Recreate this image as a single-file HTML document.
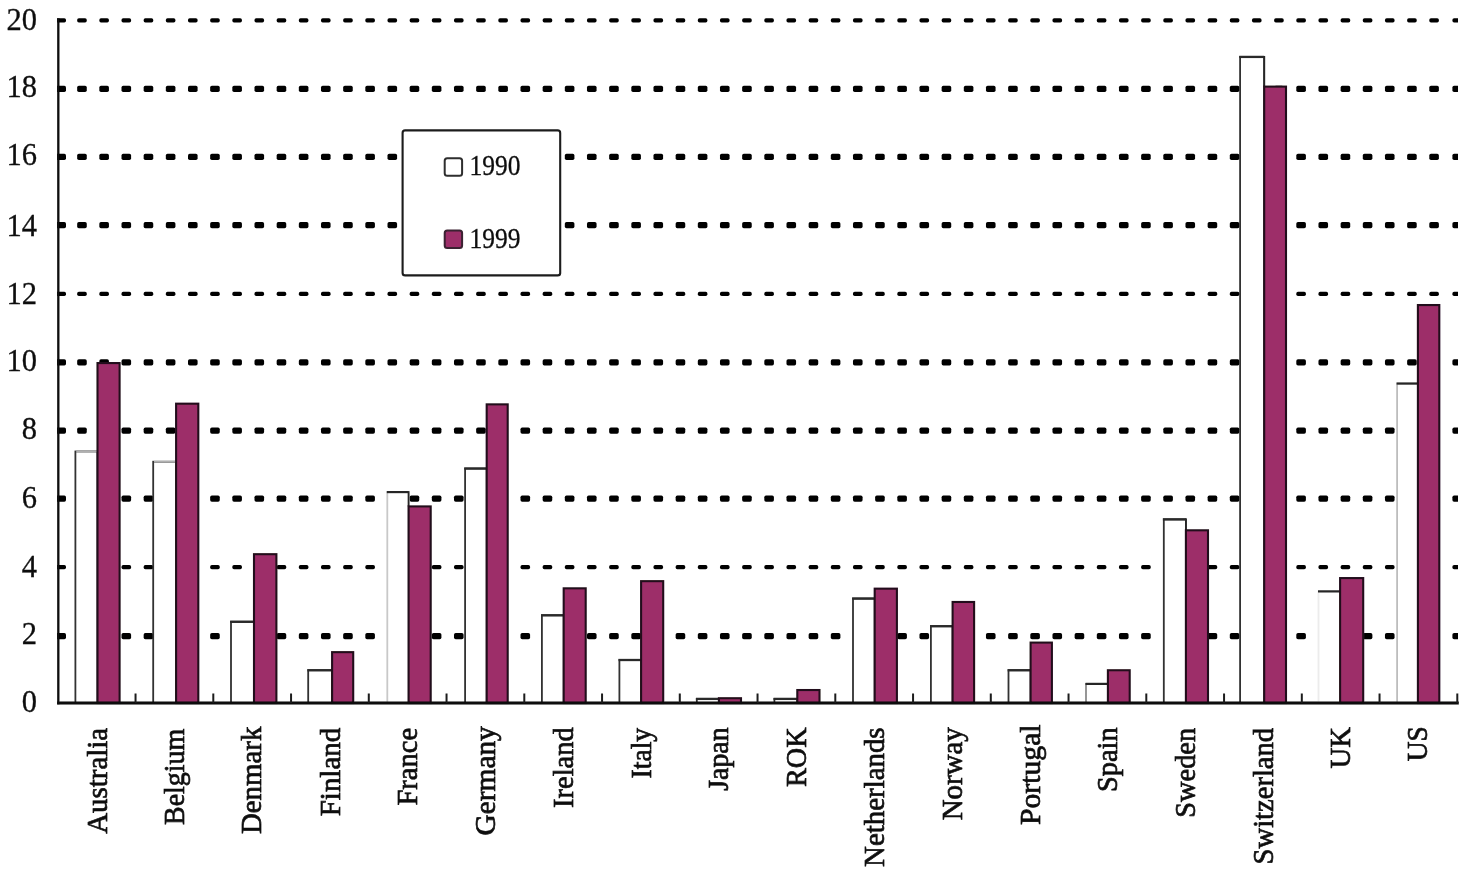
<!DOCTYPE html>
<html><head><meta charset="utf-8"><title>chart</title>
<style>
html,body{margin:0;padding:0;background:#fff;}
body{width:1465px;height:873px;overflow:hidden;font-family:"Liberation Serif",serif;}
svg{display:block;}
text{font-family:"Liberation Serif",serif;fill:#0d0d0d;stroke:#0d0d0d;stroke-width:0.7;}
.n{stroke-width:0.3;}
</style></head><body>
<svg width="1465" height="873" viewBox="0 0 1465 873">
<defs>
<filter id="soft" x="-1%" y="-1%" width="102%" height="102%"><feGaussianBlur stdDeviation="0.45"/></filter>
<clipPath id="plot"><rect x="57" y="0" width="1401.0" height="720"/></clipPath>
<g id="dk" fill="#050505"><rect x="54.00" y="-3.1" width="12.0" height="6.2" rx="1.7"/><rect x="77.17" y="-3.1" width="9.6" height="6.2" rx="1.7"/><rect x="99.33" y="-3.1" width="9.6" height="6.2" rx="1.7"/><rect x="121.50" y="-3.1" width="9.6" height="6.2" rx="1.7"/><rect x="143.66" y="-3.1" width="9.6" height="6.2" rx="1.7"/><rect x="165.83" y="-3.1" width="9.6" height="6.2" rx="1.7"/><rect x="188.00" y="-3.1" width="9.6" height="6.2" rx="1.7"/><rect x="210.16" y="-3.1" width="9.6" height="6.2" rx="1.7"/><rect x="232.33" y="-3.1" width="9.6" height="6.2" rx="1.7"/><rect x="254.49" y="-3.1" width="9.6" height="6.2" rx="1.7"/><rect x="276.66" y="-3.1" width="9.6" height="6.2" rx="1.7"/><rect x="298.83" y="-3.1" width="9.6" height="6.2" rx="1.7"/><rect x="320.99" y="-3.1" width="9.6" height="6.2" rx="1.7"/><rect x="343.16" y="-3.1" width="9.6" height="6.2" rx="1.7"/><rect x="365.32" y="-3.1" width="9.6" height="6.2" rx="1.7"/><rect x="387.49" y="-3.1" width="9.6" height="6.2" rx="1.7"/><rect x="409.66" y="-3.1" width="9.6" height="6.2" rx="1.7"/><rect x="431.82" y="-3.1" width="9.6" height="6.2" rx="1.7"/><rect x="453.99" y="-3.1" width="9.6" height="6.2" rx="1.7"/><rect x="476.15" y="-3.1" width="9.6" height="6.2" rx="1.7"/><rect x="498.32" y="-3.1" width="9.6" height="6.2" rx="1.7"/><rect x="520.49" y="-3.1" width="9.6" height="6.2" rx="1.7"/><rect x="542.65" y="-3.1" width="9.6" height="6.2" rx="1.7"/><rect x="564.82" y="-3.1" width="9.6" height="6.2" rx="1.7"/><rect x="586.98" y="-3.1" width="9.6" height="6.2" rx="1.7"/><rect x="609.15" y="-3.1" width="9.6" height="6.2" rx="1.7"/><rect x="631.32" y="-3.1" width="9.6" height="6.2" rx="1.7"/><rect x="653.48" y="-3.1" width="9.6" height="6.2" rx="1.7"/><rect x="675.65" y="-3.1" width="9.6" height="6.2" rx="1.7"/><rect x="697.81" y="-3.1" width="9.6" height="6.2" rx="1.7"/><rect x="719.98" y="-3.1" width="9.6" height="6.2" rx="1.7"/><rect x="742.15" y="-3.1" width="9.6" height="6.2" rx="1.7"/><rect x="764.31" y="-3.1" width="9.6" height="6.2" rx="1.7"/><rect x="786.48" y="-3.1" width="9.6" height="6.2" rx="1.7"/><rect x="808.64" y="-3.1" width="9.6" height="6.2" rx="1.7"/><rect x="830.81" y="-3.1" width="9.6" height="6.2" rx="1.7"/><rect x="852.98" y="-3.1" width="9.6" height="6.2" rx="1.7"/><rect x="875.14" y="-3.1" width="9.6" height="6.2" rx="1.7"/><rect x="897.31" y="-3.1" width="9.6" height="6.2" rx="1.7"/><rect x="919.47" y="-3.1" width="9.6" height="6.2" rx="1.7"/><rect x="941.64" y="-3.1" width="9.6" height="6.2" rx="1.7"/><rect x="963.81" y="-3.1" width="9.6" height="6.2" rx="1.7"/><rect x="985.97" y="-3.1" width="9.6" height="6.2" rx="1.7"/><rect x="1008.14" y="-3.1" width="9.6" height="6.2" rx="1.7"/><rect x="1030.30" y="-3.1" width="9.6" height="6.2" rx="1.7"/><rect x="1052.47" y="-3.1" width="9.6" height="6.2" rx="1.7"/><rect x="1074.64" y="-3.1" width="9.6" height="6.2" rx="1.7"/><rect x="1096.80" y="-3.1" width="9.6" height="6.2" rx="1.7"/><rect x="1118.97" y="-3.1" width="9.6" height="6.2" rx="1.7"/><rect x="1141.13" y="-3.1" width="9.6" height="6.2" rx="1.7"/><rect x="1163.30" y="-3.1" width="9.6" height="6.2" rx="1.7"/><rect x="1185.47" y="-3.1" width="9.6" height="6.2" rx="1.7"/><rect x="1207.63" y="-3.1" width="9.6" height="6.2" rx="1.7"/><rect x="1229.80" y="-3.1" width="9.6" height="6.2" rx="1.7"/><rect x="1251.96" y="-3.1" width="9.6" height="6.2" rx="1.7"/><rect x="1274.13" y="-3.1" width="9.6" height="6.2" rx="1.7"/><rect x="1296.30" y="-3.1" width="9.6" height="6.2" rx="1.7"/><rect x="1318.46" y="-3.1" width="9.6" height="6.2" rx="1.7"/><rect x="1340.63" y="-3.1" width="9.6" height="6.2" rx="1.7"/><rect x="1362.79" y="-3.1" width="9.6" height="6.2" rx="1.7"/><rect x="1384.96" y="-3.1" width="9.6" height="6.2" rx="1.7"/><rect x="1407.13" y="-3.1" width="9.6" height="6.2" rx="1.7"/><rect x="1429.29" y="-3.1" width="9.6" height="6.2" rx="1.7"/><rect x="1452.40" y="-3.1" width="7.0" height="6.2" rx="1.7"/></g>
<g id="dn" fill="#050505"><rect x="54.00" y="-2.1" width="12.0" height="4.2" rx="1.7"/><rect x="77.17" y="-2.1" width="9.6" height="4.2" rx="1.7"/><rect x="99.33" y="-2.1" width="9.6" height="4.2" rx="1.7"/><rect x="121.50" y="-2.1" width="9.6" height="4.2" rx="1.7"/><rect x="143.66" y="-2.1" width="9.6" height="4.2" rx="1.7"/><rect x="165.83" y="-2.1" width="9.6" height="4.2" rx="1.7"/><rect x="188.00" y="-2.1" width="9.6" height="4.2" rx="1.7"/><rect x="210.16" y="-2.1" width="9.6" height="4.2" rx="1.7"/><rect x="232.33" y="-2.1" width="9.6" height="4.2" rx="1.7"/><rect x="254.49" y="-2.1" width="9.6" height="4.2" rx="1.7"/><rect x="276.66" y="-2.1" width="9.6" height="4.2" rx="1.7"/><rect x="298.83" y="-2.1" width="9.6" height="4.2" rx="1.7"/><rect x="320.99" y="-2.1" width="9.6" height="4.2" rx="1.7"/><rect x="343.16" y="-2.1" width="9.6" height="4.2" rx="1.7"/><rect x="365.32" y="-2.1" width="9.6" height="4.2" rx="1.7"/><rect x="387.49" y="-2.1" width="9.6" height="4.2" rx="1.7"/><rect x="409.66" y="-2.1" width="9.6" height="4.2" rx="1.7"/><rect x="431.82" y="-2.1" width="9.6" height="4.2" rx="1.7"/><rect x="453.99" y="-2.1" width="9.6" height="4.2" rx="1.7"/><rect x="476.15" y="-2.1" width="9.6" height="4.2" rx="1.7"/><rect x="498.32" y="-2.1" width="9.6" height="4.2" rx="1.7"/><rect x="520.49" y="-2.1" width="9.6" height="4.2" rx="1.7"/><rect x="542.65" y="-2.1" width="9.6" height="4.2" rx="1.7"/><rect x="564.82" y="-2.1" width="9.6" height="4.2" rx="1.7"/><rect x="586.98" y="-2.1" width="9.6" height="4.2" rx="1.7"/><rect x="609.15" y="-2.1" width="9.6" height="4.2" rx="1.7"/><rect x="631.32" y="-2.1" width="9.6" height="4.2" rx="1.7"/><rect x="653.48" y="-2.1" width="9.6" height="4.2" rx="1.7"/><rect x="675.65" y="-2.1" width="9.6" height="4.2" rx="1.7"/><rect x="697.81" y="-2.1" width="9.6" height="4.2" rx="1.7"/><rect x="719.98" y="-2.1" width="9.6" height="4.2" rx="1.7"/><rect x="742.15" y="-2.1" width="9.6" height="4.2" rx="1.7"/><rect x="764.31" y="-2.1" width="9.6" height="4.2" rx="1.7"/><rect x="786.48" y="-2.1" width="9.6" height="4.2" rx="1.7"/><rect x="808.64" y="-2.1" width="9.6" height="4.2" rx="1.7"/><rect x="830.81" y="-2.1" width="9.6" height="4.2" rx="1.7"/><rect x="852.98" y="-2.1" width="9.6" height="4.2" rx="1.7"/><rect x="875.14" y="-2.1" width="9.6" height="4.2" rx="1.7"/><rect x="897.31" y="-2.1" width="9.6" height="4.2" rx="1.7"/><rect x="919.47" y="-2.1" width="9.6" height="4.2" rx="1.7"/><rect x="941.64" y="-2.1" width="9.6" height="4.2" rx="1.7"/><rect x="963.81" y="-2.1" width="9.6" height="4.2" rx="1.7"/><rect x="985.97" y="-2.1" width="9.6" height="4.2" rx="1.7"/><rect x="1008.14" y="-2.1" width="9.6" height="4.2" rx="1.7"/><rect x="1030.30" y="-2.1" width="9.6" height="4.2" rx="1.7"/><rect x="1052.47" y="-2.1" width="9.6" height="4.2" rx="1.7"/><rect x="1074.64" y="-2.1" width="9.6" height="4.2" rx="1.7"/><rect x="1096.80" y="-2.1" width="9.6" height="4.2" rx="1.7"/><rect x="1118.97" y="-2.1" width="9.6" height="4.2" rx="1.7"/><rect x="1141.13" y="-2.1" width="9.6" height="4.2" rx="1.7"/><rect x="1163.30" y="-2.1" width="9.6" height="4.2" rx="1.7"/><rect x="1185.47" y="-2.1" width="9.6" height="4.2" rx="1.7"/><rect x="1207.63" y="-2.1" width="9.6" height="4.2" rx="1.7"/><rect x="1229.80" y="-2.1" width="9.6" height="4.2" rx="1.7"/><rect x="1251.96" y="-2.1" width="9.6" height="4.2" rx="1.7"/><rect x="1274.13" y="-2.1" width="9.6" height="4.2" rx="1.7"/><rect x="1296.30" y="-2.1" width="9.6" height="4.2" rx="1.7"/><rect x="1318.46" y="-2.1" width="9.6" height="4.2" rx="1.7"/><rect x="1340.63" y="-2.1" width="9.6" height="4.2" rx="1.7"/><rect x="1362.79" y="-2.1" width="9.6" height="4.2" rx="1.7"/><rect x="1384.96" y="-2.1" width="9.6" height="4.2" rx="1.7"/><rect x="1407.13" y="-2.1" width="9.6" height="4.2" rx="1.7"/><rect x="1429.29" y="-2.1" width="9.6" height="4.2" rx="1.7"/><rect x="1452.40" y="-2.1" width="7.0" height="4.2" rx="1.7"/></g>
</defs>
<rect x="0" y="0" width="1465" height="873" fill="#ffffff"/>
<g filter="url(#soft)">
<g clip-path="url(#plot)">
<use href="#dk" y="636.10"/>
<use href="#dn" y="567.20"/>
<use href="#dk" y="498.70"/>
<use href="#dk" y="430.60"/>
<use href="#dk" y="362.40"/>
<use href="#dn" y="293.80"/>
<use href="#dk" y="225.10"/>
<use href="#dk" y="156.90"/>
<use href="#dk" y="88.90"/>
<use href="#dn" y="20.30"/>
</g>
<text class="n" x="37.0" y="712.1" font-size="30.5" text-anchor="end">0</text>
<text class="n" x="37.0" y="644.3" font-size="30.5" text-anchor="end">2</text>
<text class="n" x="37.0" y="576.7" font-size="30.5" text-anchor="end">4</text>
<text class="n" x="37.0" y="507.7" font-size="30.5" text-anchor="end">6</text>
<text class="n" x="37.0" y="438.5" font-size="30.5" text-anchor="end">8</text>
<text class="n" x="37.0" y="371.0" font-size="30.5" text-anchor="end">10</text>
<text class="n" x="37.0" y="303.6" font-size="30.5" text-anchor="end">12</text>
<text class="n" x="37.0" y="236.1" font-size="30.5" text-anchor="end">14</text>
<text class="n" x="37.0" y="164.6" font-size="30.5" text-anchor="end">16</text>
<text class="n" x="37.0" y="97.2" font-size="30.5" text-anchor="end">18</text>
<text class="n" x="37.0" y="29.8" font-size="30.5" text-anchor="end">20</text>
<rect x="75.40" y="451.46" width="22.10" height="251.54" fill="#fff" stroke="#303030" stroke-width="1.8"/>
<line x1="76.20" y1="451.46" x2="97.50" y2="451.46" stroke="#b0b0b0" stroke-width="1.6"/>
<rect x="97.50" y="363.07" width="22.10" height="339.93" fill="#9d2f69" stroke="#24101b" stroke-width="2.1"/>
<rect x="153.20" y="461.70" width="22.90" height="241.30" fill="#fff" stroke="#303030" stroke-width="1.8"/>
<line x1="154.00" y1="461.70" x2="176.10" y2="461.70" stroke="#b0b0b0" stroke-width="1.6"/>
<rect x="176.10" y="403.68" width="22.20" height="299.32" fill="#9d2f69" stroke="#24101b" stroke-width="2.1"/>
<rect x="231.00" y="621.77" width="23.00" height="81.23" fill="#fff" stroke="#303030" stroke-width="1.8"/>
<line x1="230.10" y1="621.77" x2="254.00" y2="621.77" stroke="#2a2a2a" stroke-width="2.3"/>
<rect x="254.00" y="554.19" width="22.40" height="148.81" fill="#9d2f69" stroke="#24101b" stroke-width="2.1"/>
<rect x="308.20" y="670.24" width="23.90" height="32.76" fill="#fff" stroke="#303030" stroke-width="1.8"/>
<line x1="307.30" y1="670.24" x2="332.10" y2="670.24" stroke="#2a2a2a" stroke-width="2.3"/>
<rect x="332.10" y="652.15" width="21.10" height="50.85" fill="#9d2f69" stroke="#24101b" stroke-width="2.1"/>
<rect x="387.30" y="492.08" width="21.30" height="210.92" fill="#fff" stroke="#c8c8c8" stroke-width="1.8"/>
<line x1="386.80" y1="492.08" x2="408.60" y2="492.08" stroke="#262626" stroke-width="2.2"/>
<line x1="408.60" y1="491.18" x2="408.60" y2="506.41" stroke="#262626" stroke-width="1.8"/>
<rect x="408.60" y="506.41" width="22.10" height="196.59" fill="#9d2f69" stroke="#24101b" stroke-width="2.1"/>
<rect x="465.10" y="468.53" width="21.60" height="234.47" fill="#fff" stroke="#303030" stroke-width="1.8"/>
<line x1="464.20" y1="468.53" x2="486.70" y2="468.53" stroke="#2a2a2a" stroke-width="2.3"/>
<rect x="486.70" y="404.36" width="21.00" height="298.64" fill="#9d2f69" stroke="#24101b" stroke-width="2.1"/>
<rect x="541.90" y="615.29" width="21.80" height="87.71" fill="#fff" stroke="#303030" stroke-width="1.8"/>
<line x1="541.00" y1="615.29" x2="563.70" y2="615.29" stroke="#2a2a2a" stroke-width="2.3"/>
<rect x="563.70" y="588.32" width="22.00" height="114.68" fill="#9d2f69" stroke="#24101b" stroke-width="2.1"/>
<rect x="619.40" y="660.00" width="21.70" height="43.00" fill="#fff" stroke="#303030" stroke-width="1.8"/>
<line x1="618.50" y1="660.00" x2="641.10" y2="660.00" stroke="#2a2a2a" stroke-width="2.3"/>
<rect x="641.10" y="581.16" width="22.10" height="121.84" fill="#9d2f69" stroke="#24101b" stroke-width="2.1"/>
<rect x="696.80" y="698.90" width="22.10" height="4.10" fill="#fff" stroke="#303030" stroke-width="1.8"/>
<line x1="695.90" y1="698.90" x2="718.90" y2="698.90" stroke="#2a2a2a" stroke-width="2.3"/>
<rect x="718.90" y="698.22" width="22.10" height="4.78" fill="#9d2f69" stroke="#24101b" stroke-width="2.1"/>
<rect x="774.40" y="698.90" width="22.90" height="4.10" fill="#fff" stroke="#303030" stroke-width="1.8"/>
<line x1="773.50" y1="698.90" x2="797.30" y2="698.90" stroke="#2a2a2a" stroke-width="2.3"/>
<rect x="797.30" y="690.03" width="22.20" height="12.97" fill="#9d2f69" stroke="#24101b" stroke-width="2.1"/>
<rect x="853.00" y="598.56" width="21.70" height="104.44" fill="#fff" stroke="#303030" stroke-width="1.8"/>
<line x1="852.10" y1="598.56" x2="874.70" y2="598.56" stroke="#2a2a2a" stroke-width="2.3"/>
<rect x="874.70" y="588.66" width="22.20" height="114.34" fill="#9d2f69" stroke="#24101b" stroke-width="2.1"/>
<rect x="930.90" y="626.21" width="21.70" height="76.79" fill="#fff" stroke="#303030" stroke-width="1.8"/>
<line x1="930.00" y1="626.21" x2="952.60" y2="626.21" stroke="#2a2a2a" stroke-width="2.3"/>
<rect x="952.60" y="601.98" width="21.50" height="101.02" fill="#9d2f69" stroke="#24101b" stroke-width="2.1"/>
<rect x="1008.50" y="670.24" width="22.10" height="32.76" fill="#fff" stroke="#303030" stroke-width="1.8"/>
<line x1="1007.60" y1="670.24" x2="1030.60" y2="670.24" stroke="#2a2a2a" stroke-width="2.3"/>
<rect x="1030.60" y="642.59" width="21.30" height="60.41" fill="#9d2f69" stroke="#24101b" stroke-width="2.1"/>
<rect x="1086.00" y="683.89" width="21.90" height="19.11" fill="#fff" stroke="#8c8c8c" stroke-width="1.8"/>
<line x1="1085.50" y1="683.89" x2="1107.90" y2="683.89" stroke="#262626" stroke-width="2.2"/>
<rect x="1107.90" y="670.24" width="21.80" height="32.76" fill="#9d2f69" stroke="#24101b" stroke-width="2.1"/>
<rect x="1163.80" y="519.38" width="22.10" height="183.62" fill="#fff" stroke="#303030" stroke-width="1.8"/>
<line x1="1185.90" y1="518.48" x2="1185.90" y2="530.30" stroke="#262626" stroke-width="1.8"/>
<line x1="1162.90" y1="519.38" x2="1185.90" y2="519.38" stroke="#2a2a2a" stroke-width="2.3"/>
<rect x="1185.90" y="530.30" width="22.10" height="172.70" fill="#9d2f69" stroke="#24101b" stroke-width="2.1"/>
<rect x="1240.10" y="56.92" width="24.10" height="646.08" fill="#fff" stroke="#303030" stroke-width="1.8"/>
<line x1="1264.20" y1="56.02" x2="1264.20" y2="86.61" stroke="#262626" stroke-width="1.8"/>
<line x1="1239.20" y1="56.92" x2="1264.20" y2="56.92" stroke="#2a2a2a" stroke-width="2.3"/>
<rect x="1264.20" y="86.61" width="21.80" height="616.39" fill="#9d2f69" stroke="#24101b" stroke-width="2.1"/>
<rect x="1318.50" y="591.39" width="21.60" height="111.61" fill="#fff" stroke="#ececec" stroke-width="1.8"/>
<line x1="1318.00" y1="591.39" x2="1340.10" y2="591.39" stroke="#262626" stroke-width="2.2"/>
<rect x="1340.10" y="578.08" width="23.10" height="124.92" fill="#9d2f69" stroke="#24101b" stroke-width="2.1"/>
<rect x="1397.10" y="383.54" width="20.80" height="319.46" fill="#fff" stroke="#bdbdbd" stroke-width="1.8"/>
<line x1="1396.60" y1="383.54" x2="1417.90" y2="383.54" stroke="#262626" stroke-width="2.2"/>
<rect x="1417.90" y="305.04" width="21.40" height="397.96" fill="#9d2f69" stroke="#24101b" stroke-width="2.1"/>
<line x1="58.3" y1="18.3" x2="58.3" y2="704.2" stroke="#0a0a0a" stroke-width="2.3"/>
<line x1="57.1" y1="703.1" x2="1458.8" y2="703.1" stroke="#0a0a0a" stroke-width="3.0"/>
<line x1="135.55" y1="693.5" x2="135.55" y2="703.0" stroke="#1c1c1c" stroke-width="2.0"/>
<line x1="213.30" y1="693.5" x2="213.30" y2="703.0" stroke="#1c1c1c" stroke-width="2.0"/>
<line x1="291.05" y1="693.5" x2="291.05" y2="703.0" stroke="#1c1c1c" stroke-width="2.0"/>
<line x1="368.80" y1="693.5" x2="368.80" y2="703.0" stroke="#1c1c1c" stroke-width="2.0"/>
<line x1="446.55" y1="693.5" x2="446.55" y2="703.0" stroke="#1c1c1c" stroke-width="2.0"/>
<line x1="524.30" y1="693.5" x2="524.30" y2="703.0" stroke="#1c1c1c" stroke-width="2.0"/>
<line x1="602.05" y1="693.5" x2="602.05" y2="703.0" stroke="#1c1c1c" stroke-width="2.0"/>
<line x1="679.80" y1="693.5" x2="679.80" y2="703.0" stroke="#1c1c1c" stroke-width="2.0"/>
<line x1="757.55" y1="693.5" x2="757.55" y2="703.0" stroke="#1c1c1c" stroke-width="2.0"/>
<line x1="835.30" y1="693.5" x2="835.30" y2="703.0" stroke="#1c1c1c" stroke-width="2.0"/>
<line x1="913.05" y1="693.5" x2="913.05" y2="703.0" stroke="#1c1c1c" stroke-width="2.0"/>
<line x1="990.80" y1="693.5" x2="990.80" y2="703.0" stroke="#1c1c1c" stroke-width="2.0"/>
<line x1="1068.55" y1="693.5" x2="1068.55" y2="703.0" stroke="#1c1c1c" stroke-width="2.0"/>
<line x1="1146.30" y1="693.5" x2="1146.30" y2="703.0" stroke="#1c1c1c" stroke-width="2.0"/>
<line x1="1224.05" y1="693.5" x2="1224.05" y2="703.0" stroke="#1c1c1c" stroke-width="2.0"/>
<line x1="1301.80" y1="693.5" x2="1301.80" y2="703.0" stroke="#1c1c1c" stroke-width="2.0"/>
<line x1="1379.55" y1="693.5" x2="1379.55" y2="703.0" stroke="#1c1c1c" stroke-width="2.0"/>
<line x1="1457.30" y1="693.5" x2="1457.30" y2="703.0" stroke="#1c1c1c" stroke-width="2.0"/>
<text transform="translate(107.30 833.80) rotate(-90)" font-size="29.5" textLength="105.9" lengthAdjust="spacingAndGlyphs">Australia</text>
<text transform="translate(183.50 825.00) rotate(-90)" font-size="29.5" textLength="96.3" lengthAdjust="spacingAndGlyphs">Belgium</text>
<text transform="translate(261.30 834.00) rotate(-90)" font-size="29.5" textLength="107.3" lengthAdjust="spacingAndGlyphs">Denmark</text>
<text transform="translate(339.50 816.30) rotate(-90)" font-size="29.5" textLength="88.6" lengthAdjust="spacingAndGlyphs">Finland</text>
<text transform="translate(417.30 805.50) rotate(-90)" font-size="29.5" textLength="77.6" lengthAdjust="spacingAndGlyphs">France</text>
<text transform="translate(495.10 835.40) rotate(-90)" font-size="29.5" textLength="109.2" lengthAdjust="spacingAndGlyphs">Germany</text>
<text transform="translate(572.80 807.90) rotate(-90)" font-size="29.5" textLength="80.5" lengthAdjust="spacingAndGlyphs">Ireland</text>
<text transform="translate(650.70 778.40) rotate(-90)" font-size="29.5" textLength="50.5" lengthAdjust="spacingAndGlyphs">Italy</text>
<text transform="translate(727.80 790.70) rotate(-90)" font-size="29.5" textLength="63.3" lengthAdjust="spacingAndGlyphs">Japan</text>
<text transform="translate(805.90 787.00) rotate(-90)" font-size="29.5" textLength="59.6" lengthAdjust="spacingAndGlyphs">ROK</text>
<text transform="translate(883.80 866.90) rotate(-90)" font-size="29.5" textLength="139.5" lengthAdjust="spacingAndGlyphs">Netherlands</text>
<text transform="translate(962.20 820.30) rotate(-90)" font-size="29.5" textLength="93.1" lengthAdjust="spacingAndGlyphs">Norway</text>
<text transform="translate(1040.30 825.10) rotate(-90)" font-size="29.5" textLength="100.7" lengthAdjust="spacingAndGlyphs">Portugal</text>
<text transform="translate(1117.30 791.90) rotate(-90)" font-size="29.5" textLength="64.5" lengthAdjust="spacingAndGlyphs">Spain</text>
<text transform="translate(1194.50 817.70) rotate(-90)" font-size="29.5" textLength="89.8" lengthAdjust="spacingAndGlyphs">Sweden</text>
<text transform="translate(1272.80 864.40) rotate(-90)" font-size="29.5" textLength="136.5" lengthAdjust="spacingAndGlyphs">Switzerland</text>
<text transform="translate(1349.50 768.60) rotate(-90)" font-size="29.5" textLength="41.6" lengthAdjust="spacingAndGlyphs">UK</text>
<text transform="translate(1427.00 761.20) rotate(-90)" font-size="29.5" textLength="35.0" lengthAdjust="spacingAndGlyphs">US</text>
<rect x="402.6" y="130.4" width="157.6" height="145" fill="#fff" stroke="#1c1c1c" stroke-width="2.1" rx="2.5"/>
<rect x="444.7" y="158.2" width="17.4" height="17.6" fill="#fff" stroke="#2e2e2e" stroke-width="2" rx="2.5"/>
<rect x="444.7" y="230.5" width="17.4" height="17.6" fill="#9d2f69" stroke="#3a2030" stroke-width="2" rx="2.5"/>
<text class="n" x="469.6" y="174.7" font-size="29.5" textLength="51" lengthAdjust="spacingAndGlyphs">1990</text>
<text class="n" x="469.6" y="248.2" font-size="29.5" textLength="51" lengthAdjust="spacingAndGlyphs">1999</text>
</g>
</svg>
</body></html>
